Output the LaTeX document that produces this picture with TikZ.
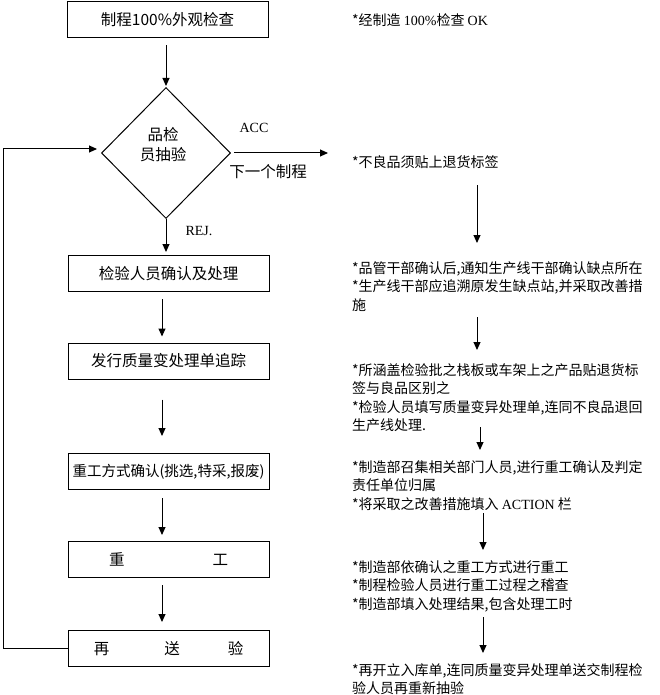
\documentclass[tikz,border=0pt]{standalone}
\usepackage{fontspec}
\setmainfont{Noto Sans CJK SC}
\newfontfamily\lat{Liberation Serif}
\usetikzlibrary{shapes.geometric,arrows.meta}
\begin{document}
\begin{tikzpicture}[x=1pt,y=-1pt,
  box/.style={draw,line width=1pt,minimum width=201pt,minimum height=36pt,inner sep=0pt,font=\fontsize{15.5}{18}\selectfont},
  arr/.style={line width=1pt,-{Triangle[length=8pt,width=7pt]}},
  note/.style={anchor=north west,align=left,inner sep=0pt,font=\fontsize{14}{18.5}\selectfont},
  note1/.style={anchor=west,inner sep=0pt,font=\fontsize{14}{18.5}\selectfont},
  lbl/.style={inner sep=0pt,font=\fontsize{15.5}{20}\selectfont},
  latlbl/.style={inner sep=0pt,font=\lat\fontsize{14}{16}\selectfont}]
\useasboundingbox (0,0) rectangle (660,695);

% left column
\node[box] (b1) at (167.5,20) {制程100\%外观检查};
\node[draw,diamond,line width=1pt,minimum width=129pt,minimum height=131pt,inner sep=0pt] (dia) at (166,153) {};
\node[lbl,align=center] (diat) at (163,145) {品检\\员抽验};
\node[box] (b2) at (168.5,273.5) {检验人员确认及处理};
\node[box] (b3) at (168.5,361) {发行质量变处理单追踪};
\node[box,font=\fontsize{14.5}{18}\selectfont] (b4) at (168.5,471.5) {重工方式确认(挑选,特采,报废)};
\node[box] (b5) at (168.5,559.5) {重\hspace{88pt}工};
\node[box] (b6) at (168.5,648.5) {再\hspace{55pt}送\hspace{48pt}验};

\node[latlbl] (acc) at (254,128) {ACC};
\node[lbl] (nxt) at (268,172) {下一个制程};
\node[latlbl] (rej) at (199,231) {REJ.};

\coordinate (nx) at (328,153);
\coordinate (fb) at (3,648.5);

\draw[arr,shorten <=7pt,shorten >=1pt] (b1.south -| dia.north) -- (dia.north);
\draw[arr,shorten >=3pt] (dia.south) -- (dia.south |- b2.north);
\draw[arr,shorten <=3pt] (dia.east) -- (nx);
\draw[arr,shorten <=7pt,shorten >=6pt] ([xshift=-6.5pt]b2.south) -- ([xshift=-6.5pt]b3.north);
\draw[arr,shorten <=20pt,shorten >=17pt] ([xshift=-6.5pt]b3.south) -- ([xshift=-6.5pt]b4.north);
\draw[arr,shorten <=8pt,shorten >=6pt] ([xshift=-6.5pt]b4.south) -- ([xshift=-6.5pt]b5.north);
\draw[arr,shorten <=7pt,shorten >=8pt] ([xshift=-6.5pt]b5.south) -- ([xshift=-6.5pt]b6.north);
\draw[arr] (b6.west) -- (fb) |- ([xshift=-4pt,yshift=4pt]dia.west);

% right column
\node[note1] (r1) at (352,20) {*经制造 {\lat 100\%}检查 {\lat OK}};
\node[note1] (r2) at (352,162) {*不良品须贴上退货标签};
\node[note] (r3) at (352,261) {*品管干部确认后,通知生产线干部确认缺点所在\\*生产线干部应追溯原发生缺点站,并采取改善措\\施};
\node[note] (r4) at (352,363) {*所涵盖检验批之栈板或车架上之产品贴退货标\\签与良品区别之\\*检验人员填写质量变异处理单,连同不良品退回\\生产线处理.};
\node[note] (r5) at (352,460) {*制造部召集相关部门人员,进行重工确认及判定\\责任单位归属\\*将采取之改善措施填入 {\lat ACTION} 栏};
\node[note] (r6) at (352,560) {*制造部依确认之重工方式进行重工\\*制程检验人员进行重工过程之稽查\\*制造部填入处理结果,包含处理工时};
\node[note] (r7) at (352,663) {*再开立入库单,连同质量变异处理单送交制程检\\验人员再重新抽验};

\coordinate (a1s) at (477,185); \coordinate (a1e) at (477,243);
\coordinate (a2s) at (477,317); \coordinate (a2e) at (477,350);
\coordinate (a3s) at (480,427); \coordinate (a3e) at (480,450);
\coordinate (a4s) at (483,513); \coordinate (a4e) at (483,550);
\coordinate (a5s) at (483,617); \coordinate (a5e) at (483,653);
\draw[arr] (a1s) -- (a1e);
\draw[arr] (a2s) -- (a2e);
\draw[arr] (a3s) -- (a3e);
\draw[arr] (a4s) -- (a4e);
\draw[arr] (a5s) -- (a5e);
\end{tikzpicture}
\end{document}
